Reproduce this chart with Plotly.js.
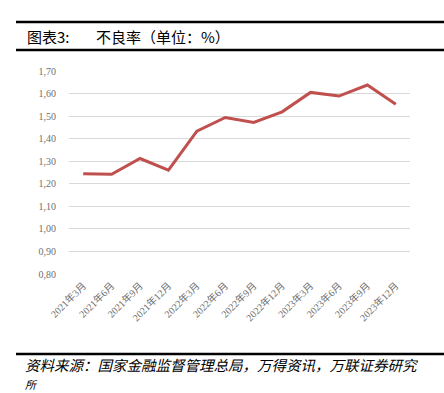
<!DOCTYPE html>
<html>
<head>
<meta charset="utf-8">
<script src="https://cdn.plot.ly/plotly-3.0.1.min.js"></script>
<style>
html,body{margin:0;padding:0;background:#fff;}
#chart{width:444px;height:393px;}
</style>
</head>
<body>
<div id="chart"></div>
<script>
const categories = ["2021年3月","2021年6月","2021年9月","2021年12月","2022年3月","2022年6月","2022年9月","2022年12月","2023年3月","2023年6月","2023年9月","2023年12月"];
const nplRatio = [1.245, 1.242, 1.312, 1.26, 1.433, 1.494, 1.472, 1.519, 1.605, 1.589, 1.638, 1.553];
const yTickVals = [0.8, 0.9, 1.0, 1.1, 1.2, 1.3, 1.4, 1.5, 1.6, 1.7];
const yTickText = ["0,80","0,90","1,00","1,10","1,20","1,30","1,40","1,50","1,60","1,70"];
const titleLeft = "图表3:";
const titleRight = "不良率（单位：%）";
const sourceLine1 = "资料来源：国家金融监督管理总局，万得资讯，万联证券研究";
const sourceLine2 = "所";

const W = 444, H = 393;
const L = 69, R = 410, T = 71, B = 274;
const px = x => (x - L) / (R - L);
const py = y => (B - y) / (B - T);
const cjk = '"Noto Sans CJK SC", "Noto Sans", sans-serif';

const trace = {
  x: categories,
  y: nplRatio,
  type: 'scatter',
  mode: 'lines',
  line: {color: '#C0504D', width: 3},
  hoverinfo: 'skip'
};

const layout = {
  width: W, height: H,
  margin: {l: L, r: W - R, t: T, b: H - B, pad: 0},
  paper_bgcolor: '#fff', plot_bgcolor: '#fff',
  showlegend: false,
  xaxis: {
    type: 'category',
    range: [-0.5, categories.length - 0.5],
    showgrid: false, zeroline: false, showline: false,
    ticks: '', tickangle: -45,
    tickfont: {family: '"Liberation Serif", "Noto Sans CJK SC", serif', size: 10, color: '#6f6f6f'},
    ticklabelstandoff: 3
  },
  yaxis: {
    range: [0.8, 1.7],
    tickvals: yTickVals, ticktext: yTickText,
    showgrid: true, gridcolor: '#d9d9d9', gridwidth: 1,
    zeroline: false, showline: false, ticks: '',
    tickfont: {family: '"Liberation Serif", serif', size: 10, color: '#6f6f6f'},
    ticklabelstandoff: 12
  },
  shapes: [
    {type: 'line', xref: 'paper', yref: 'paper', x0: px(16), x1: px(444), y0: py(22), y1: py(22), line: {color: '#000', width: 2.5}},
    {type: 'line', xref: 'paper', yref: 'paper', x0: px(16), x1: px(444), y0: py(50), y1: py(50), line: {color: '#000', width: 2.5}},
    {type: 'line', xref: 'paper', yref: 'paper', x0: px(16), x1: px(444), y0: py(354), y1: py(354), line: {color: '#000', width: 2.5}}
  ],
  annotations: [
    {xref: 'paper', yref: 'paper', x: px(25), y: py(36), xanchor: 'left', yanchor: 'middle', showarrow: false,
     text: titleLeft, font: {family: cjk, size: 15, color: '#000'}},
    {xref: 'paper', yref: 'paper', x: px(94), y: py(36), xanchor: 'left', yanchor: 'middle', showarrow: false,
     text: titleRight, font: {family: cjk, size: 15, color: '#000'}},
    {xref: 'paper', yref: 'paper', x: px(24), y: py(364), xanchor: 'left', yanchor: 'middle', showarrow: false,
     borderpad: 0, text: sourceLine1, font: {family: cjk, size: 14.5, color: '#000', style: 'italic'}},
    {xref: 'paper', yref: 'paper', x: px(24), y: py(393), xanchor: 'left', yanchor: 'bottom', showarrow: false,
     borderpad: 0, text: sourceLine2, font: {family: cjk, size: 11, color: '#000', style: 'italic'}}
  ]
};

Plotly.newPlot('chart', [trace], layout, {displayModeBar: false, staticPlot: true});
</script>
</body>
</html>
